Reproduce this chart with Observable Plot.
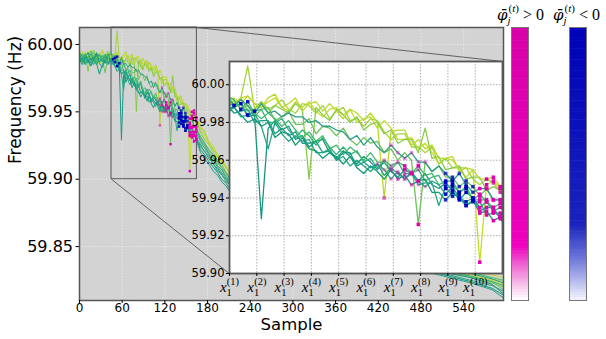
<!DOCTYPE html>
<html><head><meta charset="utf-8">
<script src="https://cdn.jsdelivr.net/npm/d3@7"></script>
<script src="https://cdn.jsdelivr.net/npm/@observablehq/plot@0.6"></script>
<style>
html,body{margin:0;padding:0;background:#fff;}
#wrap{position:relative;width:606px;height:339px;overflow:hidden;font-family:"DejaVu Sans",sans-serif;}
#wrap > *{position:absolute;}
</style></head><body><div id="wrap"></div>
<script>
// ---- data ----
const samples = [0,4,8,12,16,20,24,28,32,36,40,44,
 47,50,53,56,59,62,65,68,71,74,77,80,83,86,89,92,95,98,101,104,107,110,113,116,119,122,125,128,131,134,137,140,143,146,149,152,155,158,161,164,
 170,176,182,188,194,200,206,212,218,224,
 250,280,310,340,370,400,430,460,490,520,550,580,596];

const seriesNames = ["U1","U2","U3","U4","M1","M2","L1","L2","L3","L4","L5","L6"];
const seriesColors = ["#c5dc2b","#a5d43a","#86cb48","#bad72e","#6cc35a","#2a9d87","#17957f","#22a884","#2db27d","#109a74","#45bb6a","#1f9e89"];

const freqU1 = [59.992,59.995,59.989,59.993,59.996,59.990,59.994,59.991,59.995,59.989,59.993,59.991,
 59.993,59.990,59.994,59.990,59.988,59.991,59.993,59.988,59.986,59.991,59.988,59.991,59.986,59.983,59.987,59.988,59.984,59.987,59.980,59.982,59.983,59.977,59.981,59.977,59.971,59.971,59.972,59.966,59.969,59.964,59.958,59.961,59.960,59.955,59.951,59.955,59.906,59.947,59.949,59.945,
 59.940,59.934,59.928,59.925,59.918,59.915,59.909,59.906,59.901,59.897,
 59.892,59.884,59.877,59.870,59.863,59.857,59.850,59.845,59.839,59.836,59.832,59.829,59.827];
const freqU2 = [59.988,59.992,59.986,59.990,59.993,59.987,59.991,59.985,59.990,59.993,59.988,59.992,
 59.989,59.993,60.010,59.987,59.991,59.987,59.989,59.992,59.987,59.985,59.990,59.989,59.985,59.989,59.982,59.986,59.988,59.981,59.982,59.978,59.982,59.981,59.975,59.971,59.974,59.974,59.967,59.967,59.964,59.967,59.958,59.961,59.956,59.956,59.956,59.950,59.947,59.950,59.948,59.943,
 59.938,59.936,59.927,59.922,59.919,59.912,59.910,59.903,59.900,59.895,
 59.893,59.886,59.879,59.872,59.866,59.859,59.853,59.846,59.840,59.834,59.830,59.826,59.824];
const freqU3 = [59.995,59.990,59.994,59.980,59.992,59.996,59.990,59.993,59.987,59.991,59.995,59.989,
 59.990,59.993,59.986,59.987,59.991,59.985,59.989,59.987,59.985,59.990,59.987,59.950,59.988,59.984,59.981,59.987,59.984,59.980,59.983,59.976,59.979,59.980,59.974,59.976,59.969,59.971,59.971,59.964,59.977,59.961,59.962,59.955,59.956,59.957,59.950,59.951,59.951,59.944,59.946,59.944,
 59.935,59.929,59.926,59.920,59.914,59.911,59.905,59.902,59.898,59.893,
 59.889,59.882,59.874,59.868,59.861,59.855,59.848,59.842,59.836,59.831,59.827,59.823,59.820];
const freqU4 = [59.990,59.986,59.991,59.995,59.989,59.992,59.987,59.991,59.996,59.990,59.987,59.992,
 59.990,59.993,59.994,59.990,59.988,59.993,59.995,59.988,59.990,59.993,59.986,59.990,59.991,59.986,59.990,59.986,59.982,59.987,59.985,59.981,59.985,59.980,59.940,59.975,59.976,59.976,59.968,59.971,59.966,59.968,59.961,59.961,59.962,59.954,59.956,59.955,59.950,59.950,59.951,59.946,
 59.937,59.932,59.925,59.923,59.916,59.913,59.908,59.904,59.899,59.896,
 59.891,59.885,59.878,59.871,59.864,59.858,59.851,59.845,59.838,59.833,59.829,59.825,59.822];
const freqM1 = [59.993,59.989,59.993,59.987,59.990,59.994,59.988,59.992,59.989,59.979,59.990,59.987,
 59.992,59.987,59.989,59.983,59.987,59.988,59.981,59.983,59.986,59.979,59.979,59.982,59.974,59.978,59.977,59.973,59.977,59.971,59.968,59.972,59.969,59.970,59.964,59.966,59.960,59.964,59.960,59.926,59.959,59.954,59.957,59.951,59.951,59.946,59.949,59.946,59.941,59.945,59.939,59.939,
 59.931,59.926,59.921,59.917,59.912,59.908,59.904,59.899,59.896,59.892,
 59.888,59.880,59.873,59.866,59.860,59.853,59.847,59.841,59.835,59.832,59.828,59.824,59.818];
const freqM2 = [59.989,59.993,59.988,59.991,59.986,59.990,59.994,59.989,59.992,59.987,59.991,59.994,
 59.989,59.992,59.989,59.985,59.990,59.985,59.986,59.983,59.985,59.983,59.983,59.980,59.981,59.978,59.978,59.976,59.975,59.971,59.973,59.968,59.972,59.967,59.964,59.968,59.964,59.961,59.964,59.959,59.959,59.954,59.957,59.953,59.949,59.953,59.947,59.943,59.945,59.945,59.939,59.939,
 59.929,59.925,59.919,59.916,59.910,59.907,59.902,59.898,59.894,59.891,
 59.887,59.881,59.875,59.869,59.862,59.856,59.849,59.843,59.837,59.833,59.830,59.826,59.823];
const freqL1 = [59.991,59.987,59.992,59.988,59.984,59.989,59.993,59.987,59.990,59.986,59.991,59.988,
 59.988,59.990,59.983,59.984,59.929,59.977,59.981,59.976,59.978,59.971,59.973,59.967,59.970,59.971,59.964,59.961,59.965,59.962,59.958,59.962,59.959,59.955,59.959,59.954,59.951,59.955,59.953,59.949,59.953,59.947,59.945,59.948,59.944,59.939,59.943,59.940,59.935,59.938,59.933,59.930,
 59.926,59.920,59.917,59.911,59.908,59.903,59.900,59.895,59.892,59.888,
 59.885,59.878,59.871,59.865,59.858,59.852,59.846,59.840,59.834,59.830,59.827,59.822,59.815];
const freqL2 = [59.987,59.991,59.986,59.990,59.993,59.988,59.985,59.990,59.987,59.992,59.988,59.985,
 59.988,59.983,59.984,59.985,59.978,59.966,59.980,59.974,59.970,59.973,59.970,59.971,59.964,59.964,59.966,59.960,59.962,59.957,59.960,59.957,59.954,59.958,59.955,59.950,59.954,59.950,59.953,59.947,59.948,59.948,59.936,59.946,59.941,59.942,59.936,59.938,59.938,59.931,59.932,59.932,
 59.924,59.921,59.915,59.912,59.906,59.904,59.898,59.896,59.890,59.887,
 59.883,59.877,59.870,59.864,59.857,59.851,59.845,59.839,59.833,59.829,59.825,59.821,59.817];
const freqL3 = [59.992,59.988,59.991,59.986,59.990,59.985,59.989,59.993,59.988,59.991,59.986,59.990,
 59.989,59.990,59.984,59.986,59.987,59.980,59.980,59.982,59.976,59.972,59.976,59.973,59.968,59.972,59.967,59.963,59.967,59.963,59.965,59.959,59.961,59.956,59.960,59.957,59.959,59.953,59.953,59.955,59.949,59.951,59.952,59.945,59.947,59.943,59.946,59.939,59.939,59.939,59.933,59.935,
 59.928,59.923,59.918,59.914,59.909,59.905,59.901,59.897,59.893,59.889,
 59.886,59.879,59.872,59.866,59.859,59.853,59.847,59.841,59.835,59.831,59.828,59.824,59.821];
const freqL4 = [59.989,59.985,59.990,59.994,59.988,59.991,59.986,59.978,59.985,59.989,59.993,59.987,
 59.988,59.984,59.980,59.982,59.978,59.980,59.972,59.975,59.974,59.968,59.972,59.966,59.965,59.961,59.964,59.962,59.958,59.962,59.956,59.953,59.957,59.954,59.950,59.955,59.950,59.952,59.947,59.949,59.950,59.943,59.943,59.939,59.943,59.940,59.936,59.939,59.932,59.933,59.928,59.930,
 59.922,59.918,59.913,59.909,59.905,59.900,59.897,59.892,59.889,59.885,
 59.881,59.875,59.868,59.862,59.856,59.849,59.843,59.837,59.832,59.828,59.824,59.819,59.814];
const freqL5 = [59.994,59.989,59.993,59.990,59.995,59.991,59.987,59.992,59.989,59.993,59.990,59.994,
 59.992,59.987,59.991,59.985,59.982,59.985,59.982,59.978,59.981,59.976,59.972,59.975,59.970,59.973,59.966,59.968,59.963,59.967,59.964,59.960,59.964,59.959,59.959,59.955,59.959,59.957,59.953,59.957,59.952,59.953,59.947,59.949,59.949,59.943,59.945,59.939,59.942,59.938,59.935,59.937,
 59.932,59.927,59.922,59.918,59.913,59.909,59.905,59.900,59.897,59.893,
 59.889,59.883,59.876,59.870,59.863,59.857,59.850,59.844,59.838,59.834,59.831,59.827,59.825];
const freqL6 = [59.986,59.990,59.985,59.989,59.984,59.988,59.992,59.986,59.983,59.988,59.985,59.989,
 59.985,59.986,59.987,59.980,59.981,59.981,59.974,59.977,59.973,59.975,59.969,59.969,59.970,59.964,59.965,59.960,59.964,59.964,59.957,59.959,59.956,59.958,59.952,59.956,59.953,59.950,59.954,59.949,59.946,59.949,59.947,59.942,59.946,59.940,59.938,59.940,59.933,59.935,59.935,59.929,
 59.920,59.915,59.911,59.906,59.903,59.898,59.895,59.890,59.887,59.883,
 59.880,59.874,59.867,59.861,59.855,59.848,59.842,59.836,59.831,59.827,59.823,59.818,59.812];
const seriesValues = [freqU1,freqU2,freqU3,freqU4,freqM1,freqM2,freqL1,freqL2,freqL3,freqL4,freqL5,freqL6];

// attribution markers: which series, sample range, sign of phi, magnitude (0..1)
const markSeries = ["L3","L5","L2","L3","M2","L4","L6","L1","L5","M1","U4",
  "L1","L2","L3","L4","L5","L6","M2","M1",
  "L1","L2","L3","L4","L5","L6","M1","M2","U1","U4","U2"];
const markFrom = [47,50,110,113,116,116,119,122,122,128,113,
  140,140,140,140,140,140,140,143,
  155,155,155,155,155,155,155,155,155,158,161];
const markTo = [56,53,128,128,131,128,131,128,128,128,113,
  152,152,152,152,152,152,152,152,
  164,164,164,164,164,164,164,164,164,164,164];
const markSign = ["-","-","+","+","+","+","+","+","+","+","+",
  "-","-","-","-","-","-","-","-",
  "+","+","+","+","+","+","+","+","+","+","+"];
const markLevel = [1,0.9,0.35,0.45,0.4,0.55,0.3,1,1,1,0.6,
  1,0.9,1,0.8,1,0.9,0.7,0.8,
  1,1,1,1,1,1,1,1,1,1,0.8];

const mainXTicks = [0,60,120,180,240,300,360,420,480,540];
const mainYTicks = [59.85,59.90,59.95,60.00];
const insetXTicks = [45,57,69,81,93,105,117,129,141,153];
const insetXLabels = ["x_1^(1)","x_1^(2)","x_1^(3)","x_1^(4)","x_1^(5)","x_1^(6)","x_1^(7)","x_1^(8)","x_1^(9)","x_1^(10)"];
const insetYTicks = [59.90,59.92,59.94,59.96,59.98,60.00];

const mainXDomain = [0, 596];
const mainYDomain = [59.81, 60.0126];
const zoomBox = {x1: 45, x2: 165, y1: 59.90, y2: 60.0126};
const insetBox = {x1: 211, x2: 594, y1: 59.8298, y2: 59.9874};
const insetYDomain = [59.90, 60.0123];

const posColor = "#e000b0", negColor = "#0000c0";

// ---- build rows ----
const rows = [];
seriesNames.forEach((name, k) => samples.forEach((s, i) =>
  rows.push({series: name, s, f: seriesValues[k][i], color: seriesColors[k]})));
const markRows = [];
markSeries.forEach((name, m) => {
  const k = seriesNames.indexOf(name);
  samples.forEach((s, i) => {
    if (s >= markFrom[m] && s <= markTo[m])
      markRows.push({s, f: seriesValues[k][i], fill: markSign[m] === "+" ? posColor : negColor, op: markLevel[m]});
  });
});
const connectors = [
  {x1: zoomBox.x1, y1: zoomBox.y1, x2: insetBox.x1, y2: insetBox.y1},
  {x1: zoomBox.x2, y1: zoomBox.y2, x2: insetBox.x2, y2: insetBox.y2}
];

const wrap = document.getElementById("wrap");

// ---- main plot ----
const main = Plot.plot({
  width: 606, height: 339,
  marginLeft: 79, marginRight: 103, marginTop: 27, marginBottom: 39,
  x: {domain: mainXDomain},
  y: {domain: mainYDomain},
  color: {type: "identity"},
  style: {fontFamily: "DejaVu Sans", background: "transparent", color: "black"},
  marks: [
    Plot.frame({fill: "#d3d3d3", stroke: "none"}),
    Plot.gridX(mainXTicks, {stroke: "#f2f2f2", strokeOpacity: 0.8, strokeDasharray: "1.5,1.5", strokeWidth: 0.8}),
    Plot.gridY(mainYTicks, {stroke: "#f2f2f2", strokeOpacity: 0.8, strokeDasharray: "1.5,1.5", strokeWidth: 0.8}),
    Plot.rect([zoomBox], {x1: "x1", x2: "x2", y1: "y1", y2: "y2", fill: "none", stroke: "#555", strokeWidth: 1}),
    Plot.line(rows, {x: "s", y: "f", z: "series", stroke: "color", strokeWidth: 1, clip: true}),
    Plot.dot(markRows, {x: "s", y: "f", fill: "fill", fillOpacity: "op", symbol: "square", r: 1.4, clip: true}),
    Plot.link(connectors, {x1: "x1", y1: "y1", x2: "x2", y2: "y2", stroke: "#444", strokeWidth: 0.8}),
    Plot.frame({stroke: "#555", strokeWidth: 1.5}),
    Plot.axisY(mainYTicks, {tickFormat: d => d.toFixed(2), fontSize: 16, tickSize: 3.5, tickPadding: 3, label: null}),
    Plot.axisX(mainXTicks, {fontSize: 12, tickSize: 3, tickPadding: 0, label: null}),
    Plot.text(["Frequency (Hz)"], {frameAnchor: "left", dx: -64, rotate: -90, fontSize: 17}),
    Plot.text(["Sample"], {frameAnchor: "bottom", dy: 29.5, fontSize: 16.5})
  ]
});
main.style.left = "0px"; main.style.top = "0px";
wrap.appendChild(main);

// ---- inset placed via the main scales ----
const sxo = main.scale("x"), syo = main.scale("y");
const fx = sxo.apply ? sxo.apply : d3.scaleLinear(sxo.domain, sxo.range);
const fy = syo.apply ? syo.apply : d3.scaleLinear(syo.domain, syo.range);
const ixL = Math.round(fx(insetBox.x1)), ixR = Math.round(fx(insetBox.x2));
const iyT = Math.round(fy(insetBox.y2)), iyB = Math.round(fy(insetBox.y1));
const mL = 45, mR = 4, mT = 4, mB = 30;

const inset = Plot.plot({
  width: (ixR - ixL) + mL + mR, height: (iyB - iyT) + mT + mB,
  marginLeft: mL, marginRight: mR, marginTop: mT, marginBottom: mB,
  x: {domain: [zoomBox.x1, zoomBox.x2]},
  y: {domain: insetYDomain},
  color: {type: "identity"},
  style: {fontFamily: "DejaVu Sans", background: "transparent", color: "black", overflow: "visible"},
  marks: [
    Plot.frame({fill: "white", stroke: "none"}),
    Plot.gridX(insetXTicks, {stroke: "#999", strokeOpacity: 1, strokeDasharray: "1.5,1.5", strokeWidth: 0.8}),
    Plot.gridY(insetYTicks, {stroke: "#999", strokeOpacity: 1, strokeDasharray: "1.5,1.5", strokeWidth: 0.8}),
    Plot.line(rows, {x: "s", y: "f", z: "series", stroke: "color", strokeWidth: 1.3, clip: true}),
    Plot.dot(markRows, {x: "s", y: "f", fill: "fill", fillOpacity: "op", symbol: "square", r: 2, clip: true}),
    Plot.frame({stroke: "#555", strokeWidth: 1.8}),
    Plot.axisY(insetYTicks, {tickFormat: d => d.toFixed(2), fontSize: 11.5, tickSize: 3, tickPadding: 2, label: null}),
    Plot.axisX(insetXTicks, {tickFormat: () => "", tickSize: 3, label: null}),
    Plot.text(insetXTicks, {x: d => d, text: (d, i) => insetXLabels[i], frameAnchor: "bottom", dy: 18, fontSize: 15, fontFamily: "Liberation Serif"})
  ]
});
inset.style.left = (ixL - mL) + "px"; inset.style.top = (iyT - mT) + "px";
wrap.appendChild(inset);

// render x_1^(k) labels with sub/superscripts
const NS = "http://www.w3.org/2000/svg";
inset.querySelectorAll('g[aria-label="text"] text').forEach(t => {
  const m = /^(.)_(.+)\^(.+)$/.exec(t.textContent);
  if (!m) return;
  t.textContent = "";
  t.removeAttribute("dy");
  const a = document.createElementNS(NS, "tspan"); a.textContent = m[1]; a.setAttribute("font-style", "italic");
  const b = document.createElementNS(NS, "tspan"); b.textContent = m[2]; b.setAttribute("font-size", "10.5"); b.setAttribute("dy", "4");
  const c = document.createElementNS(NS, "tspan"); c.textContent = m[3]; c.setAttribute("font-size", "10.5"); c.setAttribute("dx", "-5"); c.setAttribute("dy", "-10.5");
  t.append(a, b, c);
});

// ---- colorbars ----
const levels = d3.range(0, 1, 0.01);
const posRamp = d3.scaleLinear().domain([0, 0.05, 0.12, 0.2, 1]).range(["#ffffff", "#f8c8ec", "#f070d4", "#ee00bc", "#d800a8"]);
const negRamp = d3.scaleLinear().domain([0, 0.05, 0.15, 0.28, 1]).range(["#f4f4ff", "#c8caf2", "#6d78d8", "#1a22bc", "#0000b8"]);
function colorbar(ramp, left) {
  const cb = Plot.plot({
    width: 19, height: 275, margin: 1,
    x: {domain: [0, 1], axis: null}, y: {domain: [0, 1], axis: null},
    color: {type: "identity"},
    style: {background: "transparent"},
    marks: [
      Plot.rect(levels, {x1: d => 0, x2: d => 1, y1: d => d, y2: d => Math.min(1, d + 0.012), fill: d => ramp(d + 0.005)}),
      Plot.frame({stroke: "#777", strokeWidth: 1})
    ]
  });
  cb.style.left = left + "px"; cb.style.top = "26px";
  wrap.appendChild(cb);
}
colorbar(posRamp, 510);
colorbar(negRamp, 568);

// ---- colorbar titles ----
const titleSigns = ["> 0", "< 0"];
const titleX = [497, 553];
const ov = d3.create("svg").attr("width", 606).attr("height", 30).style("left", "0px").style("top", "0px");
titleSigns.forEach((sgn, i) => {
  const t = ov.append("text").attr("x", titleX[i]).attr("y", 20).attr("font-family", "Liberation Serif").attr("font-size", 16).attr("fill", "black");
  t.append("tspan").attr("font-family", "DejaVu Serif").attr("font-style", "italic").attr("font-size", 15).text("\u03C6\u0304");
  t.append("tspan").attr("font-style", "italic").attr("font-size", 11).attr("dy", 4).text("j");
  t.append("tspan").attr("font-size", 11).attr("dx", -2).attr("dy", -12).text("(");
  t.append("tspan").attr("font-size", 11).attr("font-style", "italic").text("t");
  t.append("tspan").attr("font-size", 11).text(")");
  t.append("tspan").attr("dy", 8).text(" " + sgn);
});
wrap.appendChild(ov.node());
</script>
</body></html>
